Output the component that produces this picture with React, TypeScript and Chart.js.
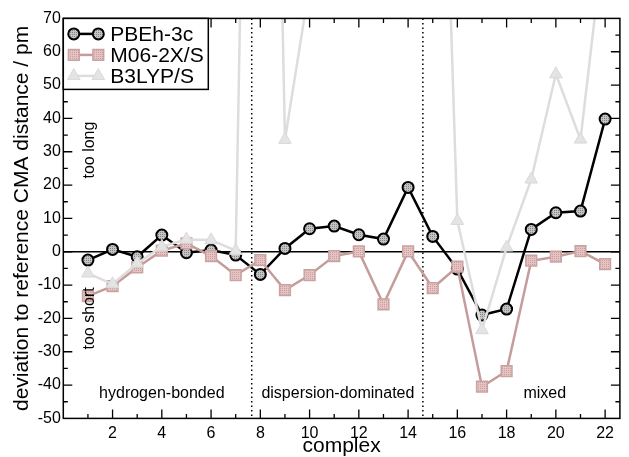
import React, { useEffect, useRef } from "react";
import { Chart, registerables } from "chart.js";

Chart.register(...registerables);

// Complex index (x) and deviation in pm (y) for each method
const complexes = [1, 2, 3, 4, 5, 6, 7, 8, 9, 10, 11, 12, 13, 14, 15, 16, 17, 18, 19, 20, 21, 22];
const pbeh3c = [-2.5, 0.7, -1.5, 5.0, -0.3, 0.5, -1.0, -6.8, 1.0, 6.9, 7.7, 5.1, 3.8, 19.3, 4.6, -5.2, -19.0, -17.2, 6.7, 11.7, 12.2, 39.8];
const m062xs = [-13.3, -10.3, -4.7, 0.3, 2.5, -1.3, -7.0, -2.5, -11.5, -7.0, -1.3, 0.1, -15.8, 0.1, -10.9, -4.5, -40.5, -35.8, -2.7, -1.5, 0.2, -3.7];
const b3lyps = [-6.5, -9.7, -3.5, 1.5, 3.7, 3.5, 0.3, 400, 33.6, 80, 95, 105, 110, 130, 240, 9.3, -23.5, 1.3, 21.7, 53.3, 33.7, 97];

const seriesNames = ["PBEh-3c", "M06-2X/S", "B3LYP/S"];

// Axis ticks
const xTickValues = [2, 4, 6, 8, 10, 12, 14, 16, 18, 20, 22];
const yTickValues = [-50, -40, -30, -20, -10, 0, 10, 20, 30, 40, 50, 60, 70];

// Group separators and their labels
const groupBounds = [7.65, 14.6];
const groupLabels = ["hydrogen-bonded", "dispersion-dominated", "mixed"];
const groupLabelX = [4.0, 11.15, 19.55];

const FONT = "'Liberation Sans', Arial, Helvetica, sans-serif";

function stipple(base: string, dot: string): CanvasPattern | string {
  const c = document.createElement("canvas");
  c.width = 2;
  c.height = 2;
  const g = c.getContext("2d");
  if (!g) return base;
  g.fillStyle = base;
  g.fillRect(0, 0, 2, 2);
  g.fillStyle = dot;
  g.fillRect(0, 0, 1, 1);
  const p = g.createPattern(c, "repeat");
  return p || base;
}

type Marker = {
  style: "circle" | "rect" | "triangle";
  radius: number;
  fill: CanvasPattern | string;
  stroke: string;
  strokeWidth: number;
  line: string;
  lineWidth: number;
};

function drawMarker(ctx: CanvasRenderingContext2D, m: Marker, x: number, y: number) {
  ctx.beginPath();
  if (m.style === "circle") {
    ctx.arc(x, y, m.radius, 0, Math.PI * 2);
  } else if (m.style === "rect") {
    const s = m.radius * Math.SQRT1_2;
    ctx.rect(x - s, y - s, 2 * s, 2 * s);
  } else {
    let rad = 0;
    for (let k = 0; k < 3; k++) {
      const px = x + Math.sin(rad) * m.radius;
      const py = y - Math.cos(rad) * m.radius;
      if (k === 0) ctx.moveTo(px, py);
      else ctx.lineTo(px, py);
      rad += (2 * Math.PI) / 3;
    }
    ctx.closePath();
  }
  ctx.fillStyle = m.fill as any;
  ctx.fill();
  ctx.lineWidth = m.strokeWidth;
  ctx.strokeStyle = m.stroke;
  ctx.stroke();
}

export default function App() {
  const canvasRef = useRef<HTMLCanvasElement | null>(null);

  useEffect(() => {
    const canvas = canvasRef.current;
    if (!canvas) return;

    const markers: Marker[] = [
      { style: "circle", radius: 5.5, fill: stipple("#c4c4c4", "#858585"), stroke: "#000000", strokeWidth: 2, line: "#000000", lineWidth: 2.5 },
      { style: "rect", radius: 7.6, fill: stipple("#e6c4c4", "#c99e9e"), stroke: "#c9a3a1", strokeWidth: 1.5, line: "#c49c9a", lineWidth: 2.5 },
      { style: "triangle", radius: 7.3, fill: "#e4e4e4", stroke: "#d9d9d9", strokeWidth: 1, line: "#dddddd", lineWidth: 2.5 },
    ];
    const values = [pbeh3c, m062xs, b3lyps];
    const drawOrder = [2, 1, 0];

    const decor = {
      id: "decor",
      beforeDatasetsDraw(chart: any) {
        const { ctx, chartArea: a, scales } = chart;
        const x = scales.x;
        const y = scales.y;
        ctx.save();
        // zero reference line
        const y0 = y.getPixelForValue(0);
        ctx.strokeStyle = "#000";
        ctx.lineWidth = 1.5;
        ctx.beginPath();
        ctx.moveTo(a.left, y0);
        ctx.lineTo(a.right, y0);
        ctx.stroke();
        // dotted group separators
        ctx.setLineDash([1.5, 3]);
        ctx.lineWidth = 1.5;
        for (const b of groupBounds) {
          const px = x.getPixelForValue(b);
          ctx.beginPath();
          ctx.moveTo(px, a.top);
          ctx.lineTo(px, a.bottom);
          ctx.stroke();
        }
        ctx.restore();
      },
      afterDatasetsDraw(chart: any) {
        const { ctx, chartArea: a, scales } = chart;
        const x = scales.x;
        const y = scales.y;
        ctx.save();
        // frame
        ctx.strokeStyle = "#000";
        ctx.lineWidth = 1.5;
        ctx.strokeRect(a.left, a.top, a.right - a.left, a.bottom - a.top);
        // inward tick marks on all four sides
        ctx.lineWidth = 1.3;
        ctx.beginPath();
        for (let v = 1; v <= 22; v++) {
          const px = x.getPixelForValue(v);
          const len = v % 2 === 0 ? 9 : 4.5;
          ctx.moveTo(px, a.bottom);
          ctx.lineTo(px, a.bottom - len);
          ctx.moveTo(px, a.top);
          ctx.lineTo(px, a.top + len);
        }
        for (let v = -45; v <= 65; v += 5) {
          const py = y.getPixelForValue(v);
          const len = v % 10 === 0 ? 9 : 4.5;
          ctx.moveTo(a.left, py);
          ctx.lineTo(a.left + len, py);
          ctx.moveTo(a.right, py);
          ctx.lineTo(a.right - len, py);
        }
        ctx.stroke();

        // region annotations
        ctx.fillStyle = "#000";
        ctx.font = `16px ${FONT}`;
        ctx.textAlign = "center";
        ctx.textBaseline = "middle";
        groupLabels.forEach((t, i) => {
          ctx.fillText(t, x.getPixelForValue(groupLabelX[i]), y.getPixelForValue(-42.6));
        });
        const annoX = x.getPixelForValue(1.08);
        const rot = (t: string, v: number) => {
          ctx.save();
          ctx.translate(annoX, y.getPixelForValue(v));
          ctx.rotate(-Math.PI / 2);
          ctx.fillText(t, 0, 0);
          ctx.restore();
        };
        rot("too long", 30.5);
        rot("too short", -20);
        ctx.restore();
      },
      afterDraw(chart: any) {
        const { ctx, chartArea: a } = chart;
        ctx.save();
        // legend box
        const bx = a.left;
        const by = a.top;
        const bw = 145;
        const bh = 71;
        ctx.fillStyle = "#fff";
        ctx.fillRect(bx, by, bw, bh);
        ctx.strokeStyle = "#000";
        ctx.lineWidth = 1.5;
        ctx.strokeRect(bx, by, bw, bh);
        ctx.font = `21px ${FONT}`;
        ctx.textAlign = "left";
        ctx.textBaseline = "middle";
        seriesNames.forEach((name, i) => {
          const m = markers[i];
          const ry = by + 15.5 + i * 21;
          const x1 = bx + 10.5;
          const x2 = bx + 35;
          ctx.strokeStyle = m.line;
          ctx.lineWidth = m.lineWidth;
          ctx.beginPath();
          ctx.moveTo(x1, ry);
          ctx.lineTo(x2, ry);
          ctx.stroke();
          drawMarker(ctx, m, x1, ry);
          drawMarker(ctx, m, x2, ry);
          ctx.fillStyle = "#000";
          ctx.fillText(name, bx + 47, ry + 1);
        });
        ctx.restore();
      },
    };

    const chart = new Chart(canvas, {
      type: "line",
      data: {
        datasets: seriesNames.map((name, i) => ({
          label: name,
          data: complexes.map((c, k) => ({ x: c, y: values[i][k] })),
          borderColor: markers[i].line,
          borderWidth: markers[i].lineWidth,
          pointStyle: markers[i].style,
          pointRadius: markers[i].radius,
          pointBorderWidth: markers[i].strokeWidth,
          pointBorderColor: markers[i].stroke,
          pointBackgroundColor: markers[i].fill as any,
          tension: 0,
          fill: false,
          clip: 0,
          order: drawOrder[i],
        })),
      },
      options: {
        animation: false,
        responsive: false,
        devicePixelRatio: 1,
        events: [],
        layout: { padding: { top: 18.4, right: 0.5, left: 0, bottom: 0 } },
        plugins: {
          legend: { display: false },
          tooltip: { enabled: false },
        },
        scales: {
          x: {
            type: "linear",
            min: 0,
            max: 22.6,
            grid: { display: false, drawTicks: false },
            border: { display: false },
            afterBuildTicks: (s: any) => {
              s.ticks = xTickValues.map((value) => ({ value }));
            },
            afterFit: (s: any) => {
              s.height = 38.6;
            },
            ticks: {
              padding: 6,
              autoSkip: false,
              maxRotation: 0,
              color: "#000",
              font: { family: FONT, size: 16 },
            },
            title: {
              display: true,
              text: "complex",
              color: "#000",
              font: { family: FONT, size: 21, lineHeight: 1.0 },
              padding: { top: 0, bottom: 0 },
            },
          },
          y: {
            type: "linear",
            min: -50,
            max: 70,
            grid: { display: false, drawTicks: false },
            border: { display: false },
            afterBuildTicks: (s: any) => {
              s.ticks = yTickValues.map((value) => ({ value }));
            },
            afterFit: (s: any) => {
              s.width = 63.3;
            },
            ticks: {
              padding: 2.5,
              autoSkip: false,
              color: "#000",
              font: { family: FONT, size: 16 },
            },
            title: {
              display: true,
              text: "deviation to reference CMA distance / pm",
              color: "#000",
              font: { family: FONT, size: 21, lineHeight: 1.2 },
              padding: { top: 9.4, bottom: 0 },
            },
          },
        },
      },
      plugins: [decor],
    } as any);

    return () => chart.destroy();
  }, []);

  return (
    <div style={{ position: "fixed", left: 0, top: 0, width: 629, height: 457, background: "#fff" }}>
      <canvas ref={canvasRef} width={629} height={457} style={{ display: "block" }} />
    </div>
  );
}
